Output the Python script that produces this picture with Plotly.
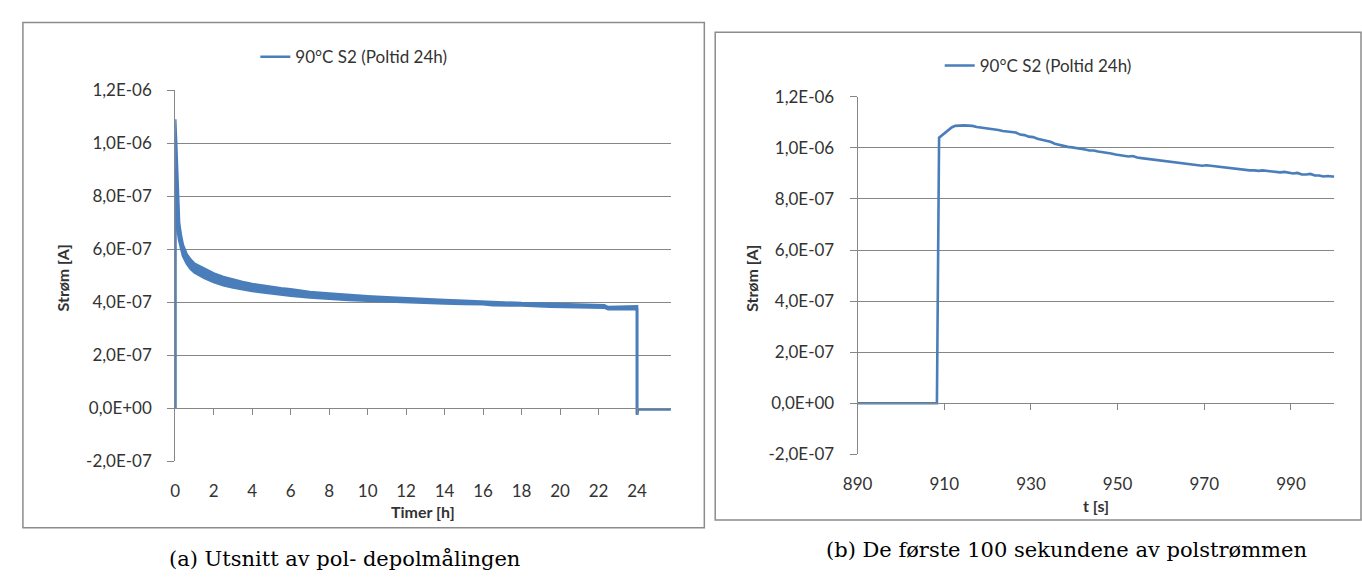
import plotly.graph_objects as go

# ---------------- data ----------------
SERIES_NAME = "90°C S2 (Poltid 24h)"

# (a) whole pol/depol measurement: time [h] and the lower / upper edge of the
#     (noisy, thick) current trace, in 1e-7 A
hours = [
    0.0, 0.0, 0.05, 0.10, 0.15, 0.20, 0.30, 0.40, 0.6, 0.8, 1.0, 1.5, 2.0, 2.5, 3.0, 3.5,
    4.0, 4.5, 5.0, 5.5, 6.0, 7.0, 8.0, 9.0, 10.0, 11.0, 12.0, 13.0, 14.0, 15.0, 16.0, 16.5,
    18.0, 19.5, 21.0, 22.3, 22.5, 24.0, 24.0, 24.05, 26.0,
]
current_a_low = [
    0.0, 9.0, 7.8, 7.0, 6.6, 6.35, 6.0, 5.75, 5.45, 5.25, 5.12, 4.92, 4.76, 4.64, 4.55, 4.48,
    4.42, 4.37, 4.32, 4.28, 4.24, 4.18, 4.12, 4.08, 4.05, 4.02, 4.00, 3.97, 3.95, 3.93, 3.92, 3.88,
    3.87, 3.83, 3.81, 3.79, 3.73, 3.73, -0.25, -0.04, -0.04,
]
current_a_high = [
    0.0, 10.9, 10.0, 9.0, 7.6, 7.0, 6.5, 6.15, 5.8, 5.6, 5.45, 5.25, 5.08, 4.95, 4.85, 4.76,
    4.68, 4.62, 4.56, 4.52, 4.48, 4.38, 4.32, 4.26, 4.22, 4.18, 4.14, 4.10, 4.08, 4.05, 4.02, 3.98,
    3.96, 3.94, 3.90, 3.88, 3.81, 3.84, -0.25, -0.04, -0.04,
]

# (b) first 100 s of the polarisation current: time [s], current [1e-7 A]
seconds = [
    890, 908.3, 908.8, 909.5, 910.2, 911.0, 911.7, 912.5, 913.5, 914.5, 915.5, 916.5,
    917.5, 918.5, 919.5, 920.5, 921.5, 922.5, 923.5, 924.5, 925.5, 926.5, 927.5, 928.5,
    929.5, 930.5, 931.5, 932.5, 933.5, 934.5, 935.5, 936.5, 937.5, 938.5, 939.5, 940.5,
    941.5, 942.5, 943.5, 944.5, 945.5, 946.5, 947.5, 948.5, 949.5, 950.5, 951.5, 952.5,
    953.5, 954.5, 955.5, 956.5, 957.5, 958.5, 959.5, 960.5, 961.5, 962.5, 963.5, 964.5,
    965.5, 966.5, 967.5, 968.5, 969.5, 970.5, 971.5, 972.5, 973.5, 974.5, 975.5, 976.5,
    977.5, 978.5, 979.5, 980.5, 981.5, 982.5, 983.5, 984.5, 985.5, 986.5, 987.5, 988.5,
    989.5, 990.5, 991.5, 992.5, 993.5, 994.5, 995.5, 996.5, 997.5, 998.5, 999.5, 1000,
]
current_b = [
    0.0, 0.0, 10.40, 10.50, 10.58, 10.72, 10.80, 10.86, 10.88, 10.88, 10.87, 10.86,
    10.82, 10.80, 10.78, 10.76, 10.74, 10.70, 10.66, 10.64, 10.62, 10.60, 10.52, 10.50,
    10.44, 10.42, 10.36, 10.32, 10.26, 10.24, 10.16, 10.12, 10.06, 10.04, 10.02, 10.00,
    9.96, 9.94, 9.90, 9.90, 9.86, 9.84, 9.80, 9.78, 9.74, 9.72, 9.70, 9.66,
    9.68, 9.62, 9.60, 9.58, 9.56, 9.54, 9.52, 9.50, 9.46, 9.46, 9.42, 9.42,
    9.38, 9.38, 9.36, 9.34, 9.30, 9.32, 9.30, 9.26, 9.26, 9.22, 9.22, 9.20,
    9.18, 9.14, 9.12, 9.12, 9.12, 9.10, 9.12, 9.10, 9.08, 9.06, 9.04, 9.06,
    9.02, 9.00, 9.02, 8.96, 8.96, 8.98, 8.92, 8.92, 8.88, 8.90, 8.88, 8.88,
]
UNIT = 1e-7

y_tickvals = [-2e-7, 0, 2e-7, 4e-7, 6e-7, 8e-7, 1e-6, 1.2e-6]
y_ticktext = ["-2,0E-07", "0,0E+00", "2,0E-07", "4,0E-07", "6,0E-07", "8,0E-07", "1,0E-06", "1,2E-06"]
xa_ticks = [0, 2, 4, 6, 8, 10, 12, 14, 16, 18, 20, 22, 24]
xb_ticks = [890, 910, 930, 950, 970, 990]

captions = ["(a) Utsnitt av pol- depolmålingen", "(b) De første 100 sekundene av polstrømmen"]
x_titles = ["Timer [h]", "t [s]"]
y_title = "Strøm [A]"

# ---------------- style ----------------
W, H = 1362, 582
LINE = "#4A7EBB"
GRID = "#868686"
TXT = "#333333"
FONT = "Lato"


def px(v):
    return v / W


def py(v):
    return (H - v) / H


fig = go.Figure()
fig.add_trace(go.Scatter(x=hours, y=[v * UNIT for v in current_a_low], mode="lines", name=SERIES_NAME,
                         line=dict(color=LINE, width=2.6), xaxis="x", yaxis="y", legend="legend"))
fig.add_trace(go.Scatter(x=hours, y=[v * UNIT for v in current_a_high], mode="lines", name=SERIES_NAME,
                         line=dict(color=LINE, width=2.6), fill="tonexty", fillcolor=LINE,
                         xaxis="x", yaxis="y", showlegend=False))
fig.add_trace(go.Scatter(x=seconds, y=[v * UNIT for v in current_b], mode="lines", name=SERIES_NAME,
                         line=dict(color=LINE, width=2.6), xaxis="x2", yaxis="y2", legend="legend2"))
# helpers for the zero-crossing axes
fig.add_trace(go.Scatter(x=[None], y=[None], xaxis="x3", yaxis="y", showlegend=False, hoverinfo="skip"))
fig.add_trace(go.Scatter(x=[None], y=[None], xaxis="x4", yaxis="y2", showlegend=False, hoverinfo="skip"))

yr = [-2e-7, 1.2e-6]
# panel geometry (pixels)
A = dict(l=162, r=663, t=82, b=467)
B = dict(l=852, r=1334, t=89, b=460)
xa_range = [0, 25.75]
xb_range = [890, 1000]


def zero_pos(p):
    frac = (0 - yr[0]) / (yr[1] - yr[0])
    return py(p["b"]) + frac * (py(p["t"]) - py(p["b"]))


tickfont = dict(family=FONT, size=17, color=TXT)

common_y = dict(range=yr, tickvals=y_tickvals, ticktext=y_ticktext, showgrid=True, gridcolor=GRID,
                gridwidth=1, showline=True, linecolor=GRID, linewidth=1, ticks="outside", ticklen=7,
                tickcolor=GRID, zeroline=False, tickfont=tickfont, ticklabelstandoff=12, fixedrange=True)
common_x = dict(showgrid=False, showline=False, zeroline=False, ticks="", tickfont=tickfont,
                ticklabelstandoff=18)
common_zero = dict(anchor="free", showgrid=False, showline=True, linecolor=GRID, linewidth=1,
                   ticks="outside", ticklen=6, tickcolor=GRID, showticklabels=False, zeroline=False)

fig.update_layout(
    width=W, height=H, autosize=False,
    margin=dict(l=0, r=0, t=0, b=0),
    paper_bgcolor="white", plot_bgcolor="rgba(0,0,0,0)",
    xaxis=dict(domain=[px(A["l"]), px(A["r"])], anchor="y", range=xa_range, tickvals=xa_ticks, **common_x),
    yaxis=dict(domain=[py(A["b"]), py(A["t"])], anchor="x", **common_y),
    xaxis2=dict(domain=[px(B["l"]), px(B["r"])], anchor="y2", range=xb_range, tickvals=xb_ticks, **common_x),
    yaxis2=dict(domain=[py(B["b"]), py(B["t"])], anchor="x2", **common_y),
    xaxis3=dict(overlaying="x", range=xa_range, tickvals=xa_ticks[1:], position=zero_pos(A), **common_zero),
    xaxis4=dict(overlaying="x2", range=xb_range, tickvals=xb_ticks[1:], position=zero_pos(B), **common_zero),
    legend=dict(x=px(243), y=py(48), xanchor="left", yanchor="middle", bgcolor="rgba(0,0,0,0)",
                font=dict(family=FONT, size=17, color=TXT), itemwidth=30),
    legend2=dict(x=px(935), y=py(57), xanchor="left", yanchor="middle", bgcolor="rgba(0,0,0,0)",
                 font=dict(family=FONT, size=17, color=TXT), itemwidth=30),
    showlegend=True,
)

# chart borders
fig.add_shape(type="rect", xref="paper", yref="paper", x0=px(8), x1=px(697), y0=py(536), y1=py(12),
              line=dict(color="#8C8C8C", width=1.5), layer="below")
fig.add_shape(type="rect", xref="paper", yref="paper", x0=px(708), x1=px(1361), y0=py(528), y1=py(22),
              line=dict(color="#8C8C8C", width=1.5), layer="below")

ann = []
# axis titles
ann.append(dict(text="<b>%s</b>" % y_title, x=px(48), y=py(277), textangle=-90))
ann.append(dict(text="<b>%s</b>" % y_title, x=px(744), y=py(277), textangle=-90))
ann.append(dict(text="<b>%s</b>" % x_titles[0], x=px((A["l"] + A["r"]) / 2), y=py(519)))
ann.append(dict(text="<b>%s</b>" % x_titles[1], x=px((B["l"] + B["r"]) / 2), y=py(513)))
for a in ann:
    a.update(xref="paper", yref="paper", showarrow=False, xanchor="center", yanchor="middle",
             font=dict(family=FONT, size=16, color=TXT))
# captions
cap_font = dict(family="DejaVu Serif", size=21, color="black")
ann.append(dict(text=captions[0], x=px(154), y=py(569), xref="paper", yref="paper", showarrow=False,
                xanchor="left", yanchor="middle", font=cap_font))
ann.append(dict(text=captions[1], x=px(1308), y=py(559), xref="paper", yref="paper", showarrow=False,
                xanchor="right", yanchor="middle", font=cap_font))
fig.update_layout(annotations=ann)

# place the figure at the very top-left corner of the page (no default body margin)
fig.write_html("out.html",
               config={"displayModeBar": False, "staticPlot": True},
               post_script="document.body.style.margin='0';document.body.style.overflow='hidden';"
                           "document.documentElement.style.overflow='hidden';")
